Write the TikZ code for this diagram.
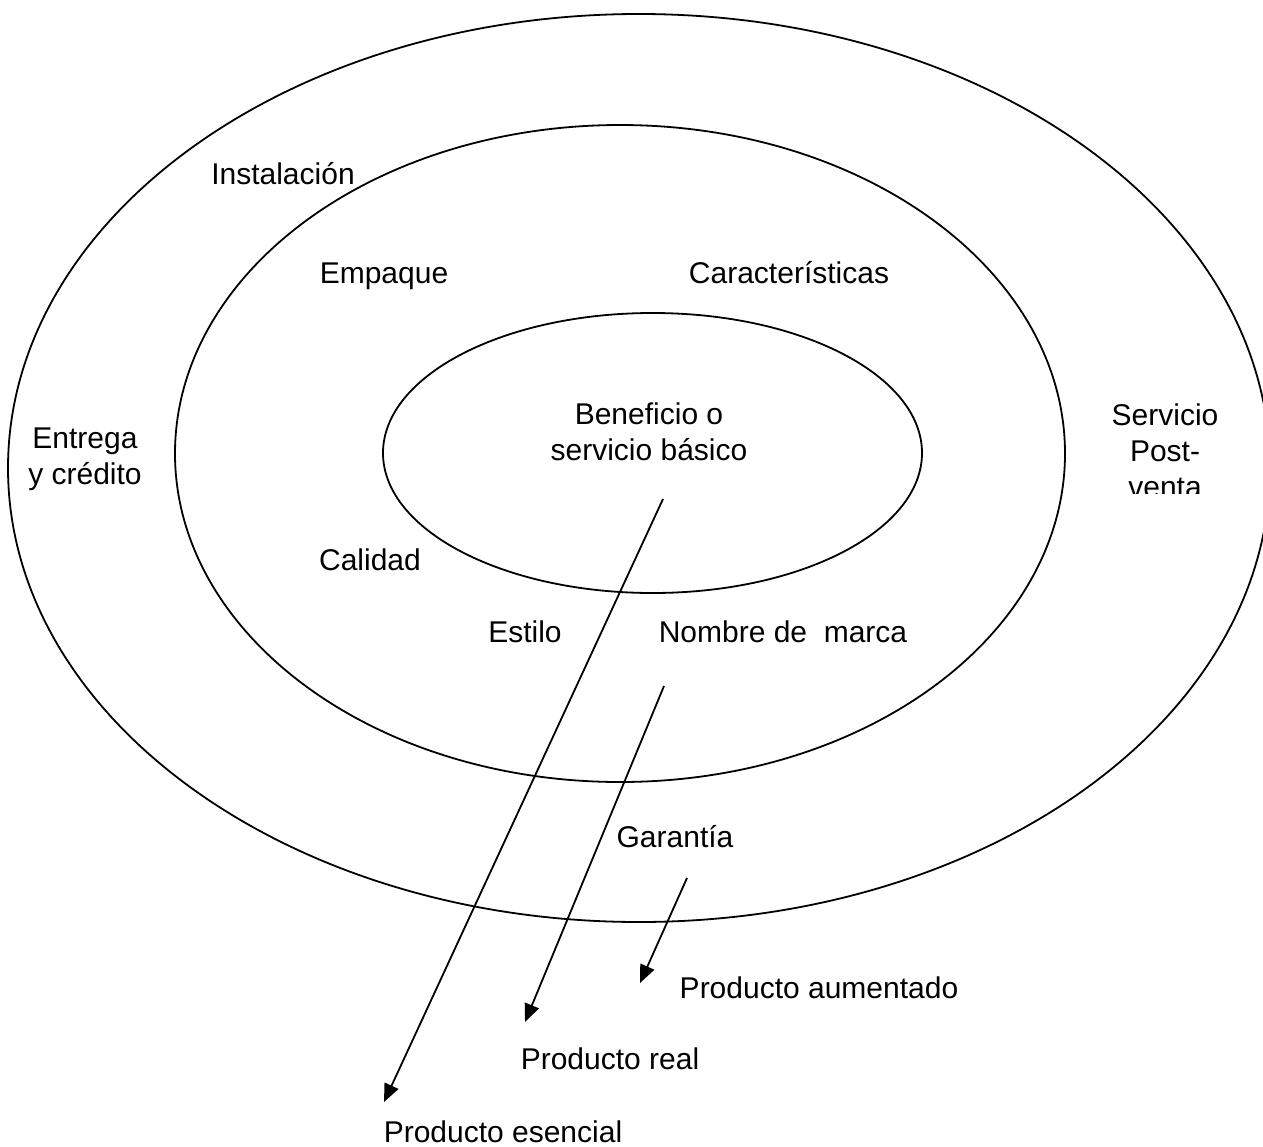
\documentclass[tikz,border=0pt]{standalone}
\usepackage{fontspec}
\setmainfont{Liberation Sans}
\usetikzlibrary{arrows.meta,shapes.geometric}
\tikzset{
  ring/.style={draw, ellipse, line width=1.8pt, inner sep=0pt, outer sep=0pt},
  lbl/.style={font=\fontsize{30}{36}\selectfont, inner sep=0pt, anchor=base, align=center},
  pointer/.style={line width=1.8pt, -{Triangle[length=18pt,width=15pt]}}
}
\begin{document}
\begin{tikzpicture}[x=1pt, y=-1pt]
  \useasboundingbox (0,0) rectangle (1263,1146);

  % three nested levels of the product
  \node[ring, minimum width=1262pt, minimum height=908pt] (outer) at (639,468) {};
  \node[ring, minimum width=890pt, minimum height=657pt] (middle) at (620,453.5) {};
  \node[ring, minimum width=539pt, minimum height=280pt] (inner) at (652.5,453) {};

  % labels of the augmented product (multi-line nodes sit on their last baseline)
  \node[lbl] (instal) at (283,184) {Instalación};
  \node[lbl] (entrega) at (85,484) {Entrega\\y crédito};
  \begin{scope}
    \clip (1080,380) rectangle (1263,493);
    \node[lbl] (postventa) at (1165,497) {Servicio\\Post-\\venta};
  \end{scope}
  \node[lbl] (garantia) at (675,847) {Garantía};

  % labels of the actual product
  \node[lbl] (empaque) at (384,283) {Empaque};
  \node[lbl] (caract) at (789,283) {Características};
  \node[lbl] (calidad) at (370,570) {Calidad};
  \node[lbl] (estilo) at (525,642) {Estilo};
  \node[lbl] (marca) at (783,642) {Nombre de\ \ marca};

  % core benefit
  \node[lbl] (nucleo) at (649,460) {Beneficio o\\servicio básico};

  % captions below
  \node[lbl] (aumentado) at (819,998) {Producto aumentado};
  \node[lbl] (real) at (610,1069) {Producto real};
  \node[lbl] (esencial) at (503,1142) {Producto esencial};

  % pointers
  \coordinate (p1s) at (663,499);
  \coordinate (p1e) at (384,1102);
  \coordinate (p2s) at (664,686);
  \coordinate (p2e) at (525,1022);
  \coordinate (p3s) at (687,878);
  \coordinate (p3e) at (640,983);
  \draw[pointer] (p1s) -- (p1e);
  \draw[pointer] (p2s) -- (p2e);
  \draw[pointer] (p3s) -- (p3e);
\end{tikzpicture}
\end{document}
